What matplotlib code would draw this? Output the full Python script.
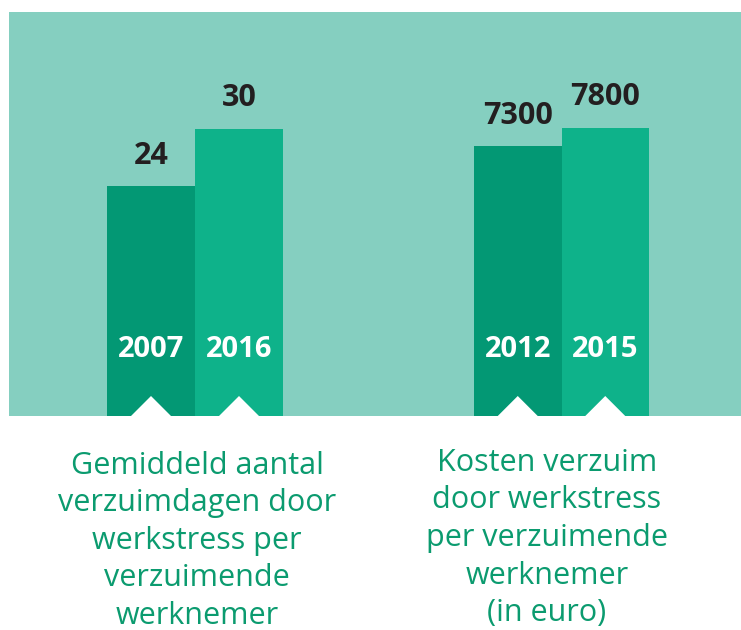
import matplotlib
matplotlib.use("Agg")
import matplotlib.pyplot as plt
from matplotlib.patches import Rectangle, Polygon

# ---- data ----
left_years = ["2007", "2016"]
left_values = [24, 30]
right_years = ["2012", "2015"]
right_values = [7300, 7800]
left_caption = ["Gemiddeld aantal", "verzuimdagen door", "werkstress per",
                "verzuimende", "werknemer"]
right_caption = ["Kosten verzuim", "door werkstress", "per verzuimende",
                 "werknemer", "(in euro)"]

# ---- style ----
BG = "#85CFC0"
BAR_COLORS = ["#039874", "#0EB28A"]
TXT_GREEN = "#0B9B6F"
NUM_COLOR = "#231F20"
FONT = ["Open Sans", "DejaVu Sans"]

W, H = 741, 630
fig = plt.figure(figsize=(W / 100, H / 100), dpi=100)
fig.patch.set_facecolor("white")

def fx(px):
    return px / W

def fy(py):
    return 1 - py / H

top_px, base_px = 12, 416

# teal panel (background axes)
bg = fig.add_axes([0, 0, 1, 1], zorder=-5)
bg.set_xlim(0, 1)
bg.set_ylim(0, 1)
bg.axis("off")
bg.add_patch(Rectangle((fx(9), fy(base_px)), 1 - fx(9), (base_px - top_px) / H,
                       facecolor=BG, edgecolor="none"))

def draw_group(left_px, right_px, ymax, years, values):
    ax = fig.add_axes([fx(left_px), fy(base_px), (right_px - left_px) / W,
                       (base_px - top_px) / H], zorder=1)
    ax.set_facecolor("none")
    ax.set_xlim(-0.5, len(values) - 0.5)
    ax.set_ylim(0, ymax)
    ax.axis("off")
    xs = list(range(len(values)))
    ax.bar(xs, values, width=1.0, color=BAR_COLORS, linewidth=0, zorder=2)
    bar_px = (right_px - left_px) / len(values)
    half = 20 / bar_px
    tri_h = 20 / (base_px - top_px)
    trans = ax.get_xaxis_transform()
    for x, v, yr in zip(xs, values, years):
        ax.add_patch(Polygon([(x - half, 0), (x, tri_h), (x + half, 0)],
                             closed=True, transform=trans, facecolor="white",
                             edgecolor="none", zorder=3, clip_on=False))
        ax.annotate(f"{v}", xy=(x, v), xytext=(0, 16), textcoords="offset points",
                    ha="center", va="baseline", fontsize=22, fontweight="bold",
                    color=NUM_COLOR, family=FONT, annotation_clip=False)
        ax.text(x, (base_px - 357) / (base_px - top_px), yr, transform=trans,
                ha="center", va="baseline", fontsize=21, fontweight="bold",
                color="white", family=FONT, zorder=4)
    return ax

draw_group(107, 283, 404 / (230 / left_values[0]), left_years, left_values)
draw_group(474, 649, 404 / (270 / right_values[0]), right_years, right_values)

def caption(cx, first_base, lines):
    for i, line in enumerate(lines):
        fig.text(fx(cx), fy(first_base + i * 37.5), line, ha="center",
                 va="baseline", fontsize=22, color=TXT_GREEN, family=FONT,
                 fontweight="medium")

caption(197, 474, left_caption)
caption(547, 471, right_caption)

fig.savefig("out.png", dpi=100, facecolor="white")
